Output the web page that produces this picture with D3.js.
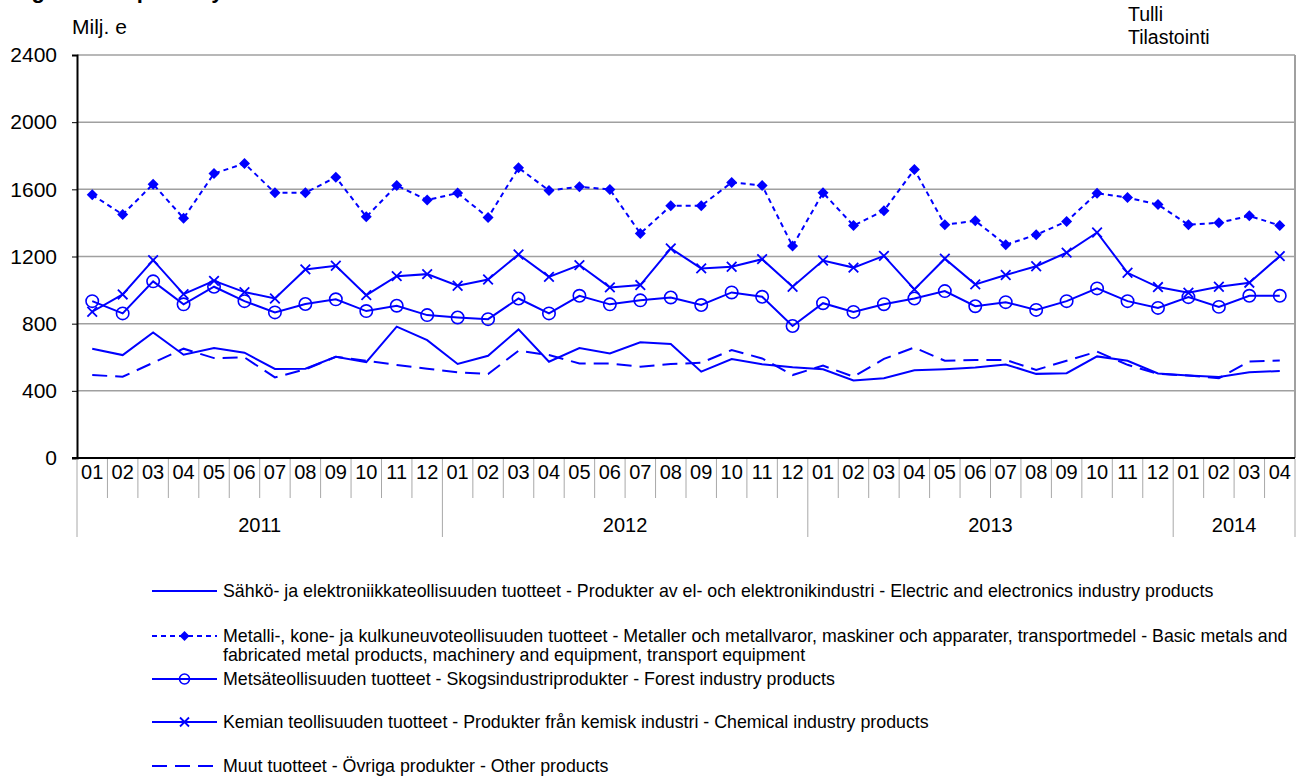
<!DOCTYPE html>
<html>
<head>
<meta charset="utf-8">
<script src="https://cdn.jsdelivr.net/npm/d3@7/dist/d3.min.js"></script>
<style>
  html, body { margin: 0; padding: 0; background: #fff; }
  svg { display: block; font-family: "Liberation Sans", Arial, sans-serif; }
</style>
</head>
<body>
<svg id="chart" width="1306" height="778"></svg>
<script>
const years = ["2011", "2012", "2013", "2014"];
const monthLabels = ["01", "02", "03", "04", "05", "06", "07", "08", "09", "10", "11", "12"];
const yTicks = [0, 400, 800, 1200, 1600, 2000, 2400];

// Milj. e, 2011-01 .. 2014-04
const electric = [651, 613, 748, 615, 655, 627, 530, 532, 603, 571, 782, 702,
  560, 609, 766, 573, 655, 623, 689, 679, 514, 589, 558, 540,
  528, 462, 475, 523, 529, 539, 557, 501, 505, 605, 579, 503,
  491, 483, 510, 518];
const metal = [1567, 1450, 1631, 1428, 1694, 1754, 1579, 1579, 1672, 1436, 1623, 1536,
  1578, 1432, 1728, 1593, 1615, 1599, 1337, 1502, 1502, 1641, 1623, 1262,
  1580, 1384, 1473, 1718, 1389, 1413, 1270, 1329, 1409, 1577, 1551, 1509,
  1389, 1401, 1442, 1385];
const forest = [934, 861, 1052, 915, 1020, 934, 867, 917, 945, 875, 907, 851,
  837, 827, 950, 861, 966, 915, 939, 956, 911, 986, 960, 786,
  922, 870, 916, 950, 994, 904, 928, 882, 934, 1010, 934, 894,
  958, 900, 966, 966];
const chemical = [871, 974, 1178, 976, 1055, 988, 950, 1123, 1145, 970, 1083, 1095,
  1026, 1063, 1212, 1079, 1149, 1016, 1030, 1248, 1129, 1139, 1184, 1020,
  1176, 1134, 1204, 1004, 1187, 1034, 1090, 1142, 1223, 1343, 1103, 1018,
  984, 1020, 1044, 1202];
const other = [494, 484, 567, 651, 595, 599, 480, 528, 603, 579, 554, 532,
  511, 500, 639, 613, 563, 563, 544, 560, 567, 643, 593, 494,
  550, 484, 590, 658, 579, 584, 584, 525, 579, 634, 555, 501,
  491, 475, 575, 580];

const legendLabels = [
  ["Sähkö- ja elektroniikkateollisuuden tuotteet - Produkter av el- och elektronikindustri - Electric and electronics industry products"],
  ["Metalli-, kone- ja kulkuneuvoteollisuuden tuotteet - Metaller och metallvaror, maskiner och apparater, transportmedel - Basic metals and",
   "fabricated metal products, machinery and equipment, transport equipment"],
  ["Metsäteollisuuden tuotteet - Skogsindustriprodukter - Forest industry products"],
  ["Kemian teollisuuden tuotteet - Produkter från kemisk industri - Chemical industry products"],
  ["Muut tuotteet - Övriga produkter - Other products"]
];

// months shown per year (2014 only to April)
const monthsPerYear = [12, 12, 12, 4];

(function () {
  const periods = [];
  years.forEach((yr, yi) => {
    for (let m = 0; m < monthsPerYear[yi]; m++) periods.push(yr + "-" + monthLabels[m]);
  });

  const BLUE = "#0000ff";
  const series = [
    { values: electric, dash: null, marker: null },
    { values: metal, dash: "5,4", marker: "diamond" },
    { values: forest, dash: null, marker: "circle" },
    { values: chemical, dash: null, marker: "cross" },
    { values: other, dash: "15,8", marker: null },
  ];

  const svg = d3.select("#chart");
  const pL = 77, pR = 1295, pT = 55, pB = 458;

  const x = d3.scaleBand().domain(periods).range([pL, pR]).padding(0);
  const y = d3.scaleLinear().domain([0, 2400]).range([pB, pT]);
  const cx = (i) => x(periods[i]) + x.bandwidth() / 2;

  /* ── title (cut off at the top, as in the source image) ── */
  svg.append("text")
    .attr("x", 12).attr("y", -2)
    .attr("font-size", 22).attr("font-weight", "bold")
    .text("Figure 4. Exports by industries");

  svg.append("text").attr("x", 72).attr("y", 34).attr("font-size", 21).text("Milj. e");
  svg.append("text").attr("x", 1128).attr("y", 21).attr("font-size", 19.5).text("Tulli");
  svg.append("text").attr("x", 1128).attr("y", 44).attr("font-size", 19.5).text("Tilastointi");

  /* ── grid + frame ── */
  svg.append("g")
    .selectAll("line")
    .data(yTicks.filter((d) => d > 0))
    .join("line")
    .attr("x1", pL).attr("x2", pR)
    .attr("y1", (d) => y(d)).attr("y2", (d) => y(d))
    .attr("stroke", "#a0a0a0").attr("stroke-width", 1.5);
  svg.append("line")
    .attr("x1", pR).attr("x2", pR).attr("y1", pT).attr("y2", pB)
    .attr("stroke", "#a0a0a0").attr("stroke-width", 2);

  // y axis
  const yAxis = svg.append("g")
    .attr("transform", `translate(${pL},0)`)
    .call(d3.axisLeft(y).tickValues(yTicks).tickSize(5).tickPadding(15).tickFormat(d3.format("d")));
  yAxis.select(".domain").attr("stroke", "#000").attr("stroke-width", 2);
  yAxis.selectAll(".tick line").attr("stroke", "#000").attr("stroke-width", 1);
  yAxis.selectAll("text").attr("font-size", 21).attr("fill", "#000").attr("font-family", "Liberation Sans, Arial, sans-serif");

  // x axis: month labels
  const xAxis = svg.append("g")
    .attr("transform", `translate(0,${pB})`)
    .call(d3.axisBottom(x).tickSize(0).tickPadding(7).tickFormat((d) => d.slice(5)));
  xAxis.select(".domain").remove();
  xAxis.selectAll("text").attr("font-size", 20).attr("fill", "#000").attr("font-family", "Liberation Sans, Arial, sans-serif");

  svg.append("line")
    .attr("x1", pL - 5).attr("x2", pR).attr("y1", pB).attr("y2", pB)
    .attr("stroke", "#000").attr("stroke-width", 2);

  // month separators, longer at year boundaries
  const yearStart = [];
  let acc = 0;
  monthsPerYear.forEach((n) => { yearStart.push(acc); acc += n; });
  svg.append("g")
    .selectAll("line")
    .data(d3.range(periods.length + 1))
    .join("line")
    .attr("x1", (i) => pL + i * x.bandwidth())
    .attr("x2", (i) => pL + i * x.bandwidth())
    .attr("y1", pB + 1)
    .attr("y2", (i) => (yearStart.includes(i) || i === periods.length ? 537 : 498))
    .attr("stroke", "#a8a8a8").attr("stroke-width", 1);

  svg.append("g")
    .selectAll("text")
    .data(years)
    .join("text")
    .attr("x", (d, i) => pL + (yearStart[i] + monthsPerYear[i] / 2) * x.bandwidth())
    .attr("y", 532)
    .attr("text-anchor", "middle")
    .attr("font-size", 20)
    .text((d) => d);

  /* ── markers ── */
  function drawMarker(g, type, px, py, s) {
    if (type === "diamond") {
      g.append("path")
        .attr("d", `M${px},${py - s}L${px + s},${py}L${px},${py + s}L${px - s},${py}Z`)
        .attr("fill", BLUE);
    } else if (type === "circle") {
      g.append("circle").attr("cx", px).attr("cy", py).attr("r", s)
        .attr("fill", "none").attr("stroke", BLUE).attr("stroke-width", 1.6);
    } else if (type === "cross") {
      g.append("path")
        .attr("d", `M${px - s},${py - s}L${px + s},${py + s}M${px - s},${py + s}L${px + s},${py - s}`)
        .attr("stroke", BLUE).attr("stroke-width", 1.8);
    }
  }
  const markerSize = { diamond: 5.5, circle: 6.2, cross: 4.8 };

  /* ── lines ── */
  const line = d3.line().x((d, i) => cx(i)).y((d) => y(d));
  series.forEach((s) => {
    const g = svg.append("g");
    g.append("path")
      .attr("d", line(s.values))
      .attr("fill", "none")
      .attr("stroke", BLUE)
      .attr("stroke-width", 2)
      .attr("stroke-dasharray", s.dash);
    if (s.marker) s.values.forEach((v, i) => drawMarker(g, s.marker, cx(i), y(v), markerSize[s.marker]));
  });

  /* ── legend ── */
  const legendY = [591, 636, 679, 722, 766];
  const legendMarkerSize = { diamond: 5, circle: 5, cross: 4.5 };
  series.forEach((s, i) => {
    const g = svg.append("g");
    const ly = legendY[i];
    g.append("line")
      .attr("x1", 152).attr("x2", 217).attr("y1", ly).attr("y2", ly)
      .attr("stroke", BLUE).attr("stroke-width", 2)
      .attr("stroke-dasharray", s.dash);
    if (s.marker) drawMarker(g, s.marker, 184.5, ly, legendMarkerSize[s.marker]);
    legendLabels[i].forEach((t, j) => {
      g.append("text")
        .attr("x", 223).attr("y", ly + 6 + j * 19)
        .attr("font-size", 17.8)
        .text(t);
    });
  });
})();
</script>
</body>
</html>
